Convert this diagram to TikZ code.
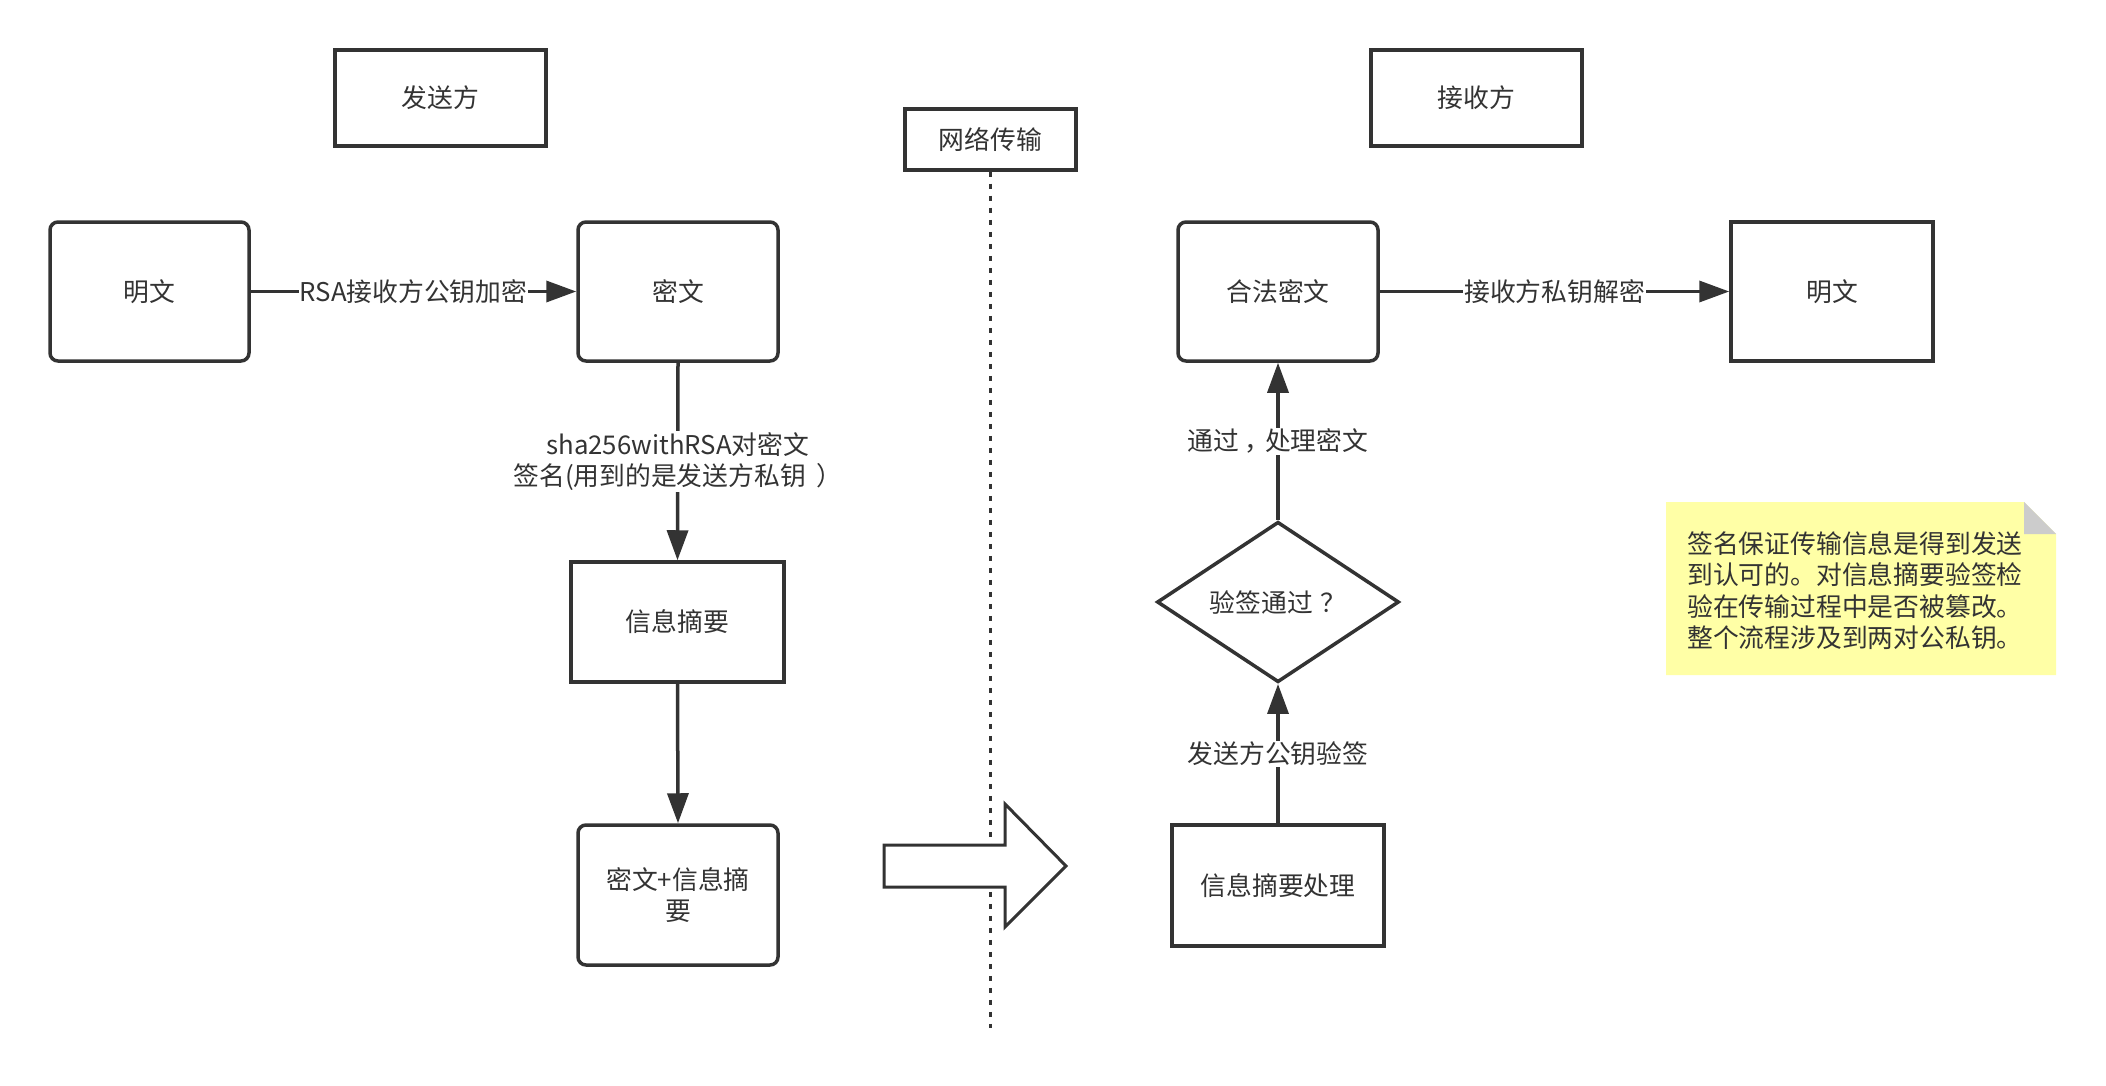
\documentclass[tikz,border=0pt]{standalone}
\usepackage{fontspec}
\setmainfont{Noto Sans CJK SC}
\usetikzlibrary{arrows.meta,shapes.geometric}
\definecolor{ink}{HTML}{333333}
\definecolor{notey}{HTML}{FFFFA6}
\definecolor{foldg}{HTML}{CCCCCC}
\begin{document}
\begin{tikzpicture}[x=1pt,y=-1pt,
  every node/.style={font=\fontsize{25.8}{31.5}\selectfont, text=ink},
  sq/.style={draw=ink, line width=3.5pt, inner sep=0pt, align=center},
  rbox/.style={sq, rounded corners=8pt},
  arr/.style={draw=ink, line width=3.5pt, -{Triangle[length=30pt,width=21pt]}},
  lbl/.style={fill=white, inner sep=1pt, align=center}]
\useasboundingbox[fill=white] (0,0) rectangle (2106,1086);

% headers
\node[sq, minimum width=211, minimum height=96] (sender) at (440.5,98) {发送方};
\node[sq, minimum width=211, minimum height=96] (receiver) at (1476.5,98) {接收方};
\node[sq, minimum width=171, minimum height=61] (net) at (990.5,139.5) {网络传输};
\coordinate (netend) at (990.5,1028);
\draw[ink, line width=3.7pt, dash pattern=on 5pt off 7pt] (net.south) -- (netend);

% sender side
\node[rbox, minimum width=199, minimum height=139] (plainL) at (149.5,291.5) {明文};
\node[rbox, minimum width=200, minimum height=139] (cipher) at (678,291.5) {密文};
\node[sq, minimum width=213, minimum height=120] (digest) at (677.5,622) {信息摘要};
\node[rbox, minimum width=200, minimum height=140] (pack) at (678,895) {密文+信息摘\\要};

\draw[arr] (plainL.east) -- node[lbl] {RSA接收方公钥加密} (cipher.west);
\draw[arr] (cipher.south) -- node[lbl] {sha256withRSA对密文\\签名(用到的是发送方私钥\hspace{0.4em}）} (digest.north);
\draw[arr] (digest.south) -- (pack.north);

% transfer arrow
\draw[ink, line width=3pt, fill=white, line join=miter]
  (884,845) -- (1005,845) -- (1005,804) -- (1066,866) -- (1005,927) -- (1005,887) -- (884,887) -- cycle;

% receiver side
\node[rbox, minimum width=200, minimum height=139] (legal) at (1278,291.5) {合法密文};
\node[sq, minimum width=202, minimum height=139] (plainR) at (1832,291.5) {明文};
\node[diamond, draw=ink, line width=3.5pt, inner sep=0pt, minimum width=242, minimum height=160] (check) at (1278,602) {验签通过\hspace{0.3em}？};
\node[sq, minimum width=212, minimum height=121] (proc) at (1278,885.5) {信息摘要处理};

\draw[arr] (legal.east) -- node[lbl] {接收方私钥解密} (plainR.west);
\draw[arr] (check.north) -- node[lbl] {通过\hspace{0.2em}，\hspace{-0.2em}处理密文} (legal.south);
\draw[arr] (proc.north) -- node[lbl] {发送方公钥验签} (check.south);

% note
\fill[notey] (1666,502) -- (2024,502) -- (2056,534) -- (2056,675) -- (1666,675) -- cycle;
\fill[foldg] (2024,502) -- (2024,534) -- (2056,534) -- cycle;
\node[anchor=west, align=left, inner sep=0pt] (note) at (1687,590.5)
  {签名保证传输信息是得到发送\\到认可的。对信息摘要验签检\\验在传输过程中是否被篡改。\\整个流程涉及到两对公私钥。};
\end{tikzpicture}
\end{document}
